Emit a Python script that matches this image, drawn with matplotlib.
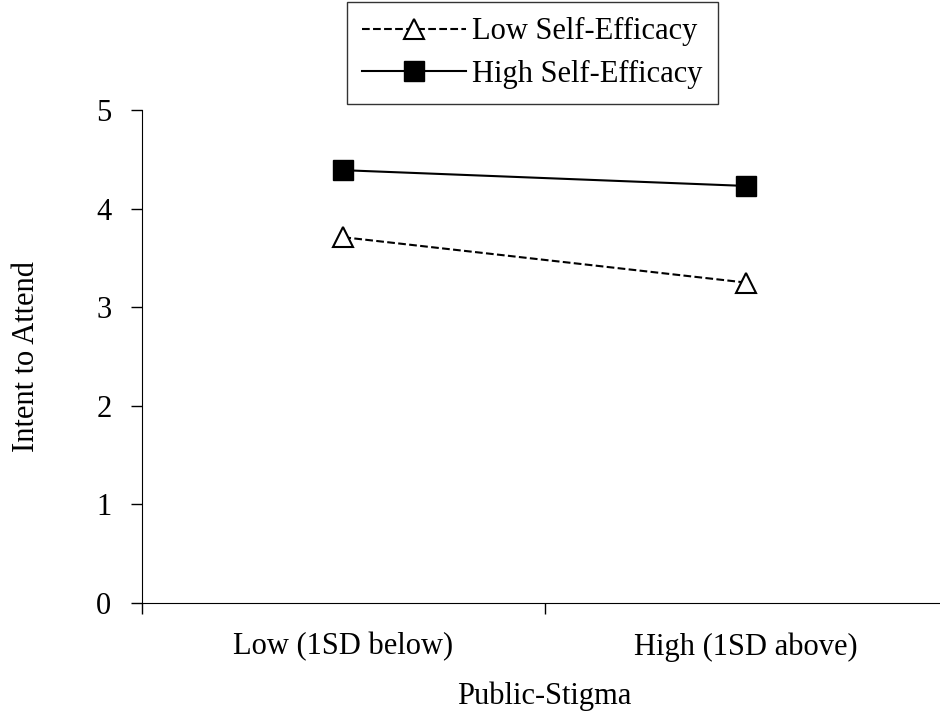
import matplotlib.pyplot as plt

plt.rcParams['font.family'] = ['Liberation Serif', 'DejaVu Serif']

groups = ["Low (1SD below)", "High (1SD above)"]
low_se = [3.71, 3.25]
high_se = [4.39, 4.23]

fig = plt.figure(figsize=(9.4, 7.15), dpi=100)
ax = fig.add_axes([0.151, 0.1566, 0.857, 0.6895])

x = range(len(groups))
ax.plot(x, low_se, ls='--', color='black', lw=1.5, marker='^', ms=14,
        mfc='white', mec='black', mew=1.5, label="Low Self-Efficacy")
ax.plot(x, high_se, ls='-', color='black', lw=1.5, marker='s', ms=14,
        mfc='black', mec='black', label="High Self-Efficacy")

ax.set_xlim(-0.5, 1.5)
ax.set_ylim(0, 5)
ax.set_yticks([0, 1, 2, 3, 4, 5])
ax.set_xticks(list(x))
ax.set_xticklabels(groups)
ax.set_xticks([-0.5, 0.5, 1.5], minor=True)
ax.tick_params(axis='x', which='major', length=0, pad=21, labelsize=22)
ax.tick_params(axis='x', which='minor', length=8, direction='out', width=1)
ax.tick_params(axis='y', length=8, direction='out', width=1, pad=14, labelsize=22)

ax.spines['top'].set_visible(False)
ax.spines['right'].set_visible(False)

ax.set_xlabel("Public-Stigma", fontsize=22, labelpad=14)
ax.set_ylabel("Intent to Attend", fontsize=22, labelpad=40)

leg = ax.legend(loc='upper center', bbox_to_anchor=(0.4845, 1.219), fontsize=22,
                frameon=True, fancybox=False, edgecolor='black', handlelength=3.4,
                handletextpad=0.2, borderpad=0.5, labelspacing=0.45,
                borderaxespad=0)
leg.get_frame().set_linewidth(1)

fig.savefig("out.png", dpi=100)
